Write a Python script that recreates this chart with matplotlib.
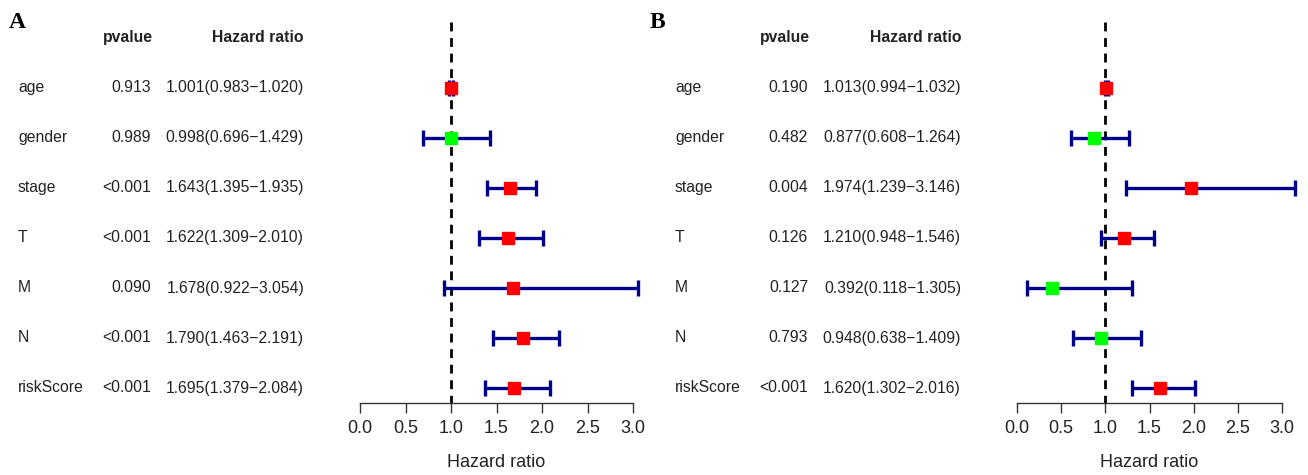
import matplotlib
matplotlib.use("Agg")
import matplotlib.pyplot as plt
from matplotlib.transforms import blended_transform_factory

plt.rcParams['font.family'] = ['Liberation Sans', 'DejaVu Sans']

variables = ["age", "gender", "stage", "T", "M", "N", "riskScore"]

pval_A = ["0.913", "0.989", "<0.001", "<0.001", "0.090", "<0.001", "<0.001"]
hr_A = [1.001, 0.998, 1.643, 1.622, 1.678, 1.790, 1.695]
lo_A = [0.983, 0.696, 1.395, 1.309, 0.922, 1.463, 1.379]
hi_A = [1.020, 1.429, 1.935, 2.010, 3.054, 2.191, 2.084]

pval_B = ["0.190", "0.482", "0.004", "0.126", "0.127", "0.793", "<0.001"]
hr_B = [1.013, 0.877, 1.974, 1.210, 0.392, 0.948, 1.620]
lo_B = [0.994, 0.608, 1.239, 0.948, 0.118, 0.638, 1.302]
hi_B = [1.032, 1.264, 3.146, 1.546, 1.305, 1.409, 2.016]

xticks = [0.0, 0.5, 1.0, 1.5, 2.0, 2.5, 3.0]

W, H = 1308, 475
fig = plt.figure(figsize=(W / 100, H / 100), dpi=100)

row0, rowstep = 88, 50
ax_top, ax_bot = 15, 403
TXT = "#222222"


def panel(letter, letter_x, ax_left, ax_right, name_x, p_x, hr_x, pvals, hr, lo, hi):
    ax = fig.add_axes([ax_left / W, 1 - ax_bot / H, (ax_right - ax_left) / W, (ax_bot - ax_top) / H])
    n = len(hr)
    y_bot = (ax_bot - row0) / rowstep
    y_top = (ax_top - row0) / rowstep
    ax.set_ylim(y_bot, y_top)
    ax.set_xlim(0, 3)
    for s in ["top", "right", "left"]:
        ax.spines[s].set_visible(False)
    ax.spines["bottom"].set_bounds(0, 3)
    ax.spines["bottom"].set_linewidth(1.0)
    ax.spines["bottom"].set_color("#333333")
    ax.set_yticks([])
    ax.set_xticks(xticks)
    ax.set_xticklabels([f"{t:.1f}" for t in xticks], fontsize=13, color=TXT)
    ax.tick_params(axis="x", length=7.5, width=1.0, pad=5, color="#333333")
    ax.set_xlabel("Hazard ratio", fontsize=13, labelpad=12, color=TXT)
    ax.patch.set_alpha(0)

    ax.vlines(1.0, y_top + 0.15, y_bot, colors="black", linestyles=(0, (3.2, 2.4)), linewidth=2.0, zorder=1)
    for i in range(n):
        col = "#FF0000" if hr[i] > 1 else "#00FF00"
        ax.errorbar(hr[i], i, xerr=[[hr[i] - lo[i]], [hi[i] - hr[i]]], fmt="none",
                    ecolor="#00008B", elinewidth=2.4, capsize=6, capthick=2.4, zorder=2, clip_on=False)
        ax.plot(hr[i], i, marker="s", markersize=8.5, color=col, markeredgecolor=col,
                linestyle="none", zorder=3, clip_on=False)

    tr = blended_transform_factory(fig.transFigure, ax.transData)
    for i in range(n):
        ax.text(name_x / W, i, variables[i], transform=tr, ha="left", va="center", fontsize=11.3, color=TXT)
        ax.text(p_x / W, i, pvals[i], transform=tr, ha="right", va="center", fontsize=11.3, color=TXT)
        ax.text(hr_x / W, i, f"{hr[i]:.3f}({lo[i]:.3f}\u2212{hi[i]:.3f})", transform=tr,
                ha="right", va="center", fontsize=11.3, color=TXT)
    yh = (38 - row0) / rowstep
    ax.text((p_x - 23) / W, yh, "pvalue", transform=tr, ha="center", va="center", fontsize=11.3,
            fontweight="bold", color=TXT)
    ax.text(hr_x / W, yh, "Hazard ratio", transform=tr, ha="right", va="center", fontsize=11.3,
            fontweight="bold", color=TXT)
    fig.text(letter_x / W, 1 - 23 / H, letter, ha="left", va="center", fontsize=17, fontweight="bold",
             family="Liberation Serif")


panel("A", 9, 360, 633, 18, 151, 304, pval_A, hr_A, lo_A, hi_A)
panel("B", 650, 1017, 1282, 675, 808, 961, pval_B, hr_B, lo_B, hi_B)

fig.savefig("out.png", dpi=100)
